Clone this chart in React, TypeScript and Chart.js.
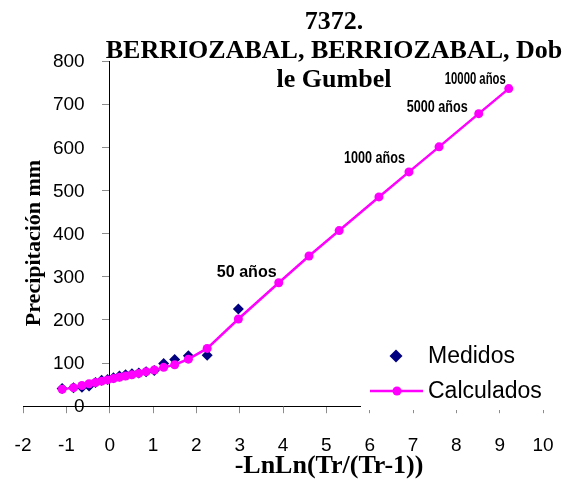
import React, { useEffect, useRef } from 'react';
import { Chart, registerables } from 'chart.js';

Chart.register(...registerables);

// ---------- data ----------
const titleLines = ['7372.', 'BERRIOZABAL, BERRIOZABAL, Dob', 'le Gumbel'];
const xAxisTitle = '-LnLn(Tr/(Tr-1))';
const yAxisTitle = 'Precipitación mm';
const xMin = -2;
const xMax = 10;
const xStep = 1;
const yMin = 0;
const yMax = 800;
const yStep = 100;

const medidosX = [-1.097, -0.834, -0.64, -0.476, -0.327, -0.186, -0.049, 0.087, 0.225, 0.367, 0.514, 0.672, 0.842, 1.031, 1.246, 1.5, 1.817, 2.25, 2.97];
const medidosY = [41, 43, 44, 47, 55, 60, 62, 66, 70, 73, 75, 77, 80, 83, 99, 108, 117, 118, 225];

const calculadosX = [-1.097, -0.834, -0.64, -0.476, -0.327, -0.186, -0.049, 0.087, 0.225, 0.367, 0.514, 0.672, 0.842, 1.031, 1.246, 1.5, 1.817, 2.25, 2.97, 3.902, 4.6, 5.296, 6.214, 6.907, 7.601, 8.517, 9.21];
const calculadosY = [39, 43, 48, 52, 55, 58, 61, 64, 67, 70, 73, 76, 80, 84, 90, 96, 109, 134, 202, 286, 348, 407, 485, 543, 601, 678, 736];

const periodTexts = ['50 años', '1000 años', '5000 años', '10000 años'];
const periodPointIndex = [19, 23, 25, 26];

const seriesNames = ['Medidos', 'Calculados'];

// ---------- styles ----------
const NAVY = '#000080';
const MAGENTA = '#FF00FF';
const SANS = '"Liberation Sans", Arial, Helvetica, sans-serif';
const SERIF = '"Liberation Serif", "Times New Roman", serif';

// label style: [fontSize, targetWidth, dxRight, dyCenter]
const periodStyle = [
  [17, 60, -2, -10],
  [16, 61, -4, -13],
  [16, 61, -11, -6],
  [16, 61, -3, -9],
];

const overlayPlugin = {
  id: 'overlay',
  afterDraw(chart: any) {
    const ctx: CanvasRenderingContext2D = chart.ctx;
    const xs = chart.scales.x;
    const ys = chart.scales.y;
    ctx.save();

    // y tick labels (axis crosses at x = 0, labels sit to its left)
    const axisX = xs.getPixelForValue(0);
    ctx.fillStyle = '#000';
    ctx.font = `19px ${SANS}`;
    ctx.textAlign = 'right';
    ctx.textBaseline = 'middle';
    ys.ticks.forEach((t: any) => {
      ctx.fillText(String(t.value), axisX - 25, ys.getPixelForValue(t.value) + 1);
    });

    // period labels
    periodTexts.forEach((t, i) => {
      const k = periodPointIndex[i];
      const px = xs.getPixelForValue(calculadosX[k]);
      const py = ys.getPixelForValue(calculadosY[k]);
      const [size, w, dx, dy] = periodStyle[i];
      ctx.save();
      ctx.font = `bold ${size}px ${SANS}`;
      const mw = ctx.measureText(t).width;
      const sx = w / mw;
      ctx.translate(px + dx, py + dy);
      ctx.scale(sx, 1);
      ctx.fillStyle = '#000';
      ctx.textAlign = 'right';
      ctx.textBaseline = 'middle';
      ctx.fillText(t, 0, 0);
      ctx.restore();
    });

    // legend box
    ctx.fillStyle = '#fff';
    ctx.fillRect(361, 330, 210, 80);
    const dX = 396, dY = 356, r = 6.5;
    ctx.beginPath();
    ctx.moveTo(dX - r, dY);
    ctx.lineTo(dX, dY - r);
    ctx.lineTo(dX + r, dY);
    ctx.lineTo(dX, dY + r);
    ctx.closePath();
    ctx.fillStyle = NAVY;
    ctx.fill();
    ctx.strokeStyle = MAGENTA;
    ctx.lineWidth = 2.5;
    ctx.beginPath();
    ctx.moveTo(370, 391);
    ctx.lineTo(423, 391);
    ctx.stroke();
    ctx.beginPath();
    ctx.arc(397, 391, 4.5, 0, Math.PI * 2);
    ctx.fillStyle = MAGENTA;
    ctx.fill();
    ctx.fillStyle = '#000';
    ctx.font = `23px ${SANS}`;
    ctx.textAlign = 'left';
    ctx.textBaseline = 'middle';
    ctx.fillText(seriesNames[0], 428, 357);
    ctx.fillText(seriesNames[1], 428, 392);

    // chart title
    ctx.font = `bold 26px ${SERIF}`;
    ctx.textAlign = 'center';
    ctx.textBaseline = 'alphabetic';
    const tb = [29, 58, 87];
    titleLines.forEach((l, i) => ctx.fillText(l, 334, tb[i]));

    // x axis title
    ctx.fillText(xAxisTitle, 329, 473);

    // y axis title
    ctx.save();
    ctx.font = `bold 22px ${SERIF}`;
    ctx.translate(40, 243);
    ctx.rotate(-Math.PI / 2);
    ctx.fillText(yAxisTitle, 0, 0);
    ctx.restore();

    ctx.restore();
  },
};

export default function App() {
  const ref = useRef<HTMLCanvasElement>(null);
  useEffect(() => {
    if (!ref.current) return;
    const chart = new Chart(ref.current, {
      type: 'scatter',
      data: {
        datasets: [
          {
            label: seriesNames[1],
            data: calculadosX.map((x, i) => ({ x, y: calculadosY[i] })),
            showLine: true,
            borderColor: MAGENTA,
            borderWidth: 2.5,
            backgroundColor: MAGENTA,
            pointBackgroundColor: MAGENTA,
            pointBorderColor: MAGENTA,
            pointBorderWidth: 0,
            pointRadius: 4.5,
            tension: 0,
          },
          {
            label: seriesNames[0],
            data: medidosX.map((x, i) => ({ x, y: medidosY[i] })),
            showLine: false,
            pointStyle: 'rectRot',
            pointRadius: 5.5,
            pointBorderWidth: 0,
            pointBackgroundColor: NAVY,
            pointBorderColor: NAVY,
            backgroundColor: NAVY,
            borderColor: NAVY,
          },
        ],
      },
      options: {
        animation: false,
        responsive: false,
        layout: { padding: { left: 23, right: 28, top: 61, bottom: 7 } },
        plugins: {
          legend: { display: false },
          title: { display: false },
          tooltip: { enabled: false },
        },
        scales: {
          x: {
            type: 'linear',
            min: xMin,
            max: xMax,
            position: 'bottom',
            afterFit: (s: any) => {
              s.paddingLeft = 0;
              s.paddingRight = 0;
            },
            ticks: {
              stepSize: xStep,
              color: '#000',
              font: { family: SANS, size: 19 },
              padding: 21,
              maxRotation: 0,
              autoSkip: false,
            },
            grid: { drawOnChartArea: false, drawTicks: true, tickLength: 7, color: '#8c8c8c' },
            border: { color: '#000', width: 1 },
          },
          y: {
            type: 'linear',
            min: yMin,
            max: yMax,
            position: { x: 0 } as any,
            ticks: {
              stepSize: yStep,
              display: false,
            },
            grid: { drawOnChartArea: false, drawTicks: true, tickLength: 7, color: '#8c8c8c' },
            border: { color: '#000', width: 1 },
          },
        },
      },
      plugins: [overlayPlugin],
    });
    return () => chart.destroy();
  }, []);
  return (
    <div style={{ position: 'fixed', left: 0, top: 0, width: 571, height: 485, background: '#fff' }}>
      <canvas ref={ref} width={571} height={485} />
    </div>
  );
}
